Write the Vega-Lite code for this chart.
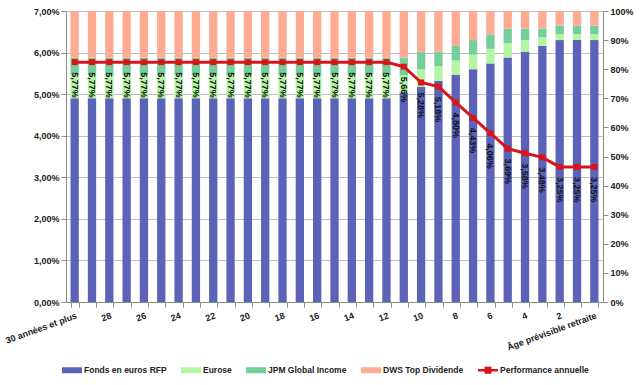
{
  "$schema": "https://vega.github.io/schema/vega-lite/v6.json",
  "width": 537,
  "height": 291,
  "autosize": {"type": "none"},
  "padding": {"left": 66, "top": 11, "right": 37, "bottom": 83},
  "background": "white",
  "config": {
    "view": {"stroke": null},
    "font": "Liberation Sans",
    "locale": {"number": {"decimal": ",", "thousands": " ", "grouping": [3], "currency": ["", " €"]}},
    "axis": {"labelFont": "Liberation Sans", "labelFontWeight": "bold", "labelFontSize": 9, "labelColor": "#222", "domainColor": "#8c8c8c", "tickColor": "#8c8c8c", "tickSize": 5}
  },
  "datasets": {
    "rangs": [
      {"fonds": "Fonds en euros RFP", "rang": 1},
      {"fonds": "Eurose", "rang": 2},
      {"fonds": "JPM Global Income", "rang": 3},
      {"fonds": "DWS Top Dividende", "rang": 4}
    ]
  },
  "data": {"values": [
    {"c": "30 années et plus", "Fonds en euros RFP": 70, "Eurose": 8, "JPM Global Income": 6, "DWS Top Dividende": 16, "perf": 0.0577},
    {"c": "29", "Fonds en euros RFP": 70, "Eurose": 8, "JPM Global Income": 6, "DWS Top Dividende": 16, "perf": 0.0577},
    {"c": "28", "Fonds en euros RFP": 70, "Eurose": 8, "JPM Global Income": 6, "DWS Top Dividende": 16, "perf": 0.0577},
    {"c": "27", "Fonds en euros RFP": 70, "Eurose": 8, "JPM Global Income": 6, "DWS Top Dividende": 16, "perf": 0.0577},
    {"c": "26", "Fonds en euros RFP": 70, "Eurose": 8, "JPM Global Income": 6, "DWS Top Dividende": 16, "perf": 0.0577},
    {"c": "25", "Fonds en euros RFP": 70, "Eurose": 8, "JPM Global Income": 6, "DWS Top Dividende": 16, "perf": 0.0577},
    {"c": "24", "Fonds en euros RFP": 70, "Eurose": 8, "JPM Global Income": 6, "DWS Top Dividende": 16, "perf": 0.0577},
    {"c": "23", "Fonds en euros RFP": 70, "Eurose": 8, "JPM Global Income": 6, "DWS Top Dividende": 16, "perf": 0.0577},
    {"c": "22", "Fonds en euros RFP": 70, "Eurose": 8, "JPM Global Income": 6, "DWS Top Dividende": 16, "perf": 0.0577},
    {"c": "21", "Fonds en euros RFP": 70, "Eurose": 8, "JPM Global Income": 6, "DWS Top Dividende": 16, "perf": 0.0577},
    {"c": "20", "Fonds en euros RFP": 70, "Eurose": 8, "JPM Global Income": 6, "DWS Top Dividende": 16, "perf": 0.0577},
    {"c": "19", "Fonds en euros RFP": 70, "Eurose": 8, "JPM Global Income": 6, "DWS Top Dividende": 16, "perf": 0.0577},
    {"c": "18", "Fonds en euros RFP": 70, "Eurose": 8, "JPM Global Income": 6, "DWS Top Dividende": 16, "perf": 0.0577},
    {"c": "17", "Fonds en euros RFP": 70, "Eurose": 8, "JPM Global Income": 6, "DWS Top Dividende": 16, "perf": 0.0577},
    {"c": "16", "Fonds en euros RFP": 70, "Eurose": 8, "JPM Global Income": 6, "DWS Top Dividende": 16, "perf": 0.0577},
    {"c": "15", "Fonds en euros RFP": 70, "Eurose": 8, "JPM Global Income": 6, "DWS Top Dividende": 16, "perf": 0.0577},
    {"c": "14", "Fonds en euros RFP": 70, "Eurose": 8, "JPM Global Income": 6, "DWS Top Dividende": 16, "perf": 0.0577},
    {"c": "13", "Fonds en euros RFP": 70, "Eurose": 8, "JPM Global Income": 6, "DWS Top Dividende": 16, "perf": 0.0577},
    {"c": "12", "Fonds en euros RFP": 70, "Eurose": 8, "JPM Global Income": 6, "DWS Top Dividende": 16, "perf": 0.0577},
    {"c": "11", "Fonds en euros RFP": 72, "Eurose": 6, "JPM Global Income": 6, "DWS Top Dividende": 16, "perf": 0.0566},
    {"c": "10", "Fonds en euros RFP": 74, "Eurose": 6, "JPM Global Income": 6, "DWS Top Dividende": 14, "perf": 0.0528},
    {"c": "9", "Fonds en euros RFP": 76, "Eurose": 5, "JPM Global Income": 5, "DWS Top Dividende": 14, "perf": 0.0518},
    {"c": "8", "Fonds en euros RFP": 78, "Eurose": 5, "JPM Global Income": 5, "DWS Top Dividende": 12, "perf": 0.0480},
    {"c": "7", "Fonds en euros RFP": 80, "Eurose": 5, "JPM Global Income": 5, "DWS Top Dividende": 10, "perf": 0.0443},
    {"c": "6", "Fonds en euros RFP": 82, "Eurose": 5, "JPM Global Income": 5, "DWS Top Dividende": 8, "perf": 0.0406},
    {"c": "5", "Fonds en euros RFP": 84, "Eurose": 5, "JPM Global Income": 5, "DWS Top Dividende": 6, "perf": 0.0369},
    {"c": "4", "Fonds en euros RFP": 86, "Eurose": 4, "JPM Global Income": 4, "DWS Top Dividende": 6, "perf": 0.0358},
    {"c": "3", "Fonds en euros RFP": 88, "Eurose": 3, "JPM Global Income": 3, "DWS Top Dividende": 6, "perf": 0.0348},
    {"c": "2", "Fonds en euros RFP": 90, "Eurose": 2, "JPM Global Income": 3, "DWS Top Dividende": 5, "perf": 0.0325},
    {"c": "1", "Fonds en euros RFP": 90, "Eurose": 2, "JPM Global Income": 3, "DWS Top Dividende": 5, "perf": 0.0325},
    {"c": "Âge prévisible retraite", "Fonds en euros RFP": 90, "Eurose": 2, "JPM Global Income": 3, "DWS Top Dividende": 5, "perf": 0.0325}
  ]},
  "encoding": {
    "x": {
      "field": "c", "type": "nominal", "sort": null,
      "scale": {"paddingInner": 0.52, "paddingOuter": 0.26},
      "axis": {
        "title": null, "labelAngle": -20, "labelAlign": "right", "labelBaseline": "top",
        "tickBand": "extent", "labelOverlap": false, "labelBound": false, "labelPadding": 4,
        "labelExpr": "isNaN(toNumber(datum.value)) || toNumber(datum.value) % 2 == 0 ? datum.label : ''"
      }
    }
  },
  "layer": [
    {
      "transform": [
        {"fold": ["Fonds en euros RFP", "Eurose", "JPM Global Income", "DWS Top Dividende"], "as": ["fonds", "pct"]},
        {"lookup": "fonds", "from": {"data": {"name": "rangs"}, "key": "fonds", "fields": ["rang"]}}
      ],
      "mark": {"type": "bar"},
      "encoding": {
        "y": {
          "field": "pct", "type": "quantitative", "stack": "zero",
          "scale": {"domain": [0, 100], "nice": false},
          "axis": {"orient": "right", "title": null, "grid": false, "values": [0,10,20,30,40,50,60,70,80,90,100], "labelExpr": "datum.value + '%'"}
        },
        "color": {
          "field": "fonds", "type": "nominal",
          "sort": ["Fonds en euros RFP", "Eurose", "JPM Global Income", "DWS Top Dividende", "Performance annuelle"],
          "scale": {
            "domain": ["Fonds en euros RFP", "Eurose", "JPM Global Income", "DWS Top Dividende", "Performance annuelle"],
            "range": ["#5b63b9", "#b4f5a3", "#74cf9b", "#ffab93", "#d9141b"]
          },
          "legend": {
            "title": null, "orient": "none", "legendX": -4, "legendY": 349,
            "direction": "horizontal", "columns": 5, "columnPadding": 14,
            "labelFont": "Liberation Sans", "labelFontWeight": "bold", "labelFontSize": 8.5, "labelColor": "#222",
            "symbolSize": 400, "labelOffset": 2, "symbolStrokeWidth": 0,
            "encode": {
              "symbols": {"update": {
                "shape": {"signal": "datum.value === 'Performance annuelle' ? 'M-1,-0.12H1V0.12H-1Z M-0.35,-0.35H0.35V0.35H-0.35Z' : 'M-1,-0.3H1V0.3H-1Z'"},
                "fill": {"signal": "scale('color', datum.value)"},
                "fillOpacity": {"value": 1},
                "strokeWidth": {"value": 0}
              }}
            }
          }
        },
        "order": {"field": "rang", "type": "quantitative", "sort": "ascending"}
      }
    },
    {
      "layer": [
        {
          "mark": {"type": "line", "color": "#d9141b", "strokeWidth": 3},
          "encoding": {
            "y": {
              "field": "perf", "type": "quantitative",
              "scale": {"domain": [0, 0.07], "nice": false},
              "axis": {"orient": "left", "title": null, "grid": true, "gridColor": "#bdbdbd", "values": [0,0.01,0.02,0.03,0.04,0.05,0.06,0.07], "format": ".2%"}
            }
          }
        },
        {
          "mark": {"type": "point", "shape": "square", "filled": true, "size": 36, "color": "#d9141b", "opacity": 1},
          "encoding": {"y": {"field": "perf", "type": "quantitative"}}
        },
        {
          "mark": {"type": "text", "angle": 90, "align": "left", "baseline": "middle", "dx": 10, "fontSize": 9, "fontWeight": "bold", "font": "Liberation Sans", "color": "#111"},
          "encoding": {
            "y": {"field": "perf", "type": "quantitative"},
            "text": {"field": "perf", "type": "quantitative", "format": ".2%"}
          }
        }
      ]
    }
  ],
  "resolve": {"scale": {"y": "independent"}}
}
